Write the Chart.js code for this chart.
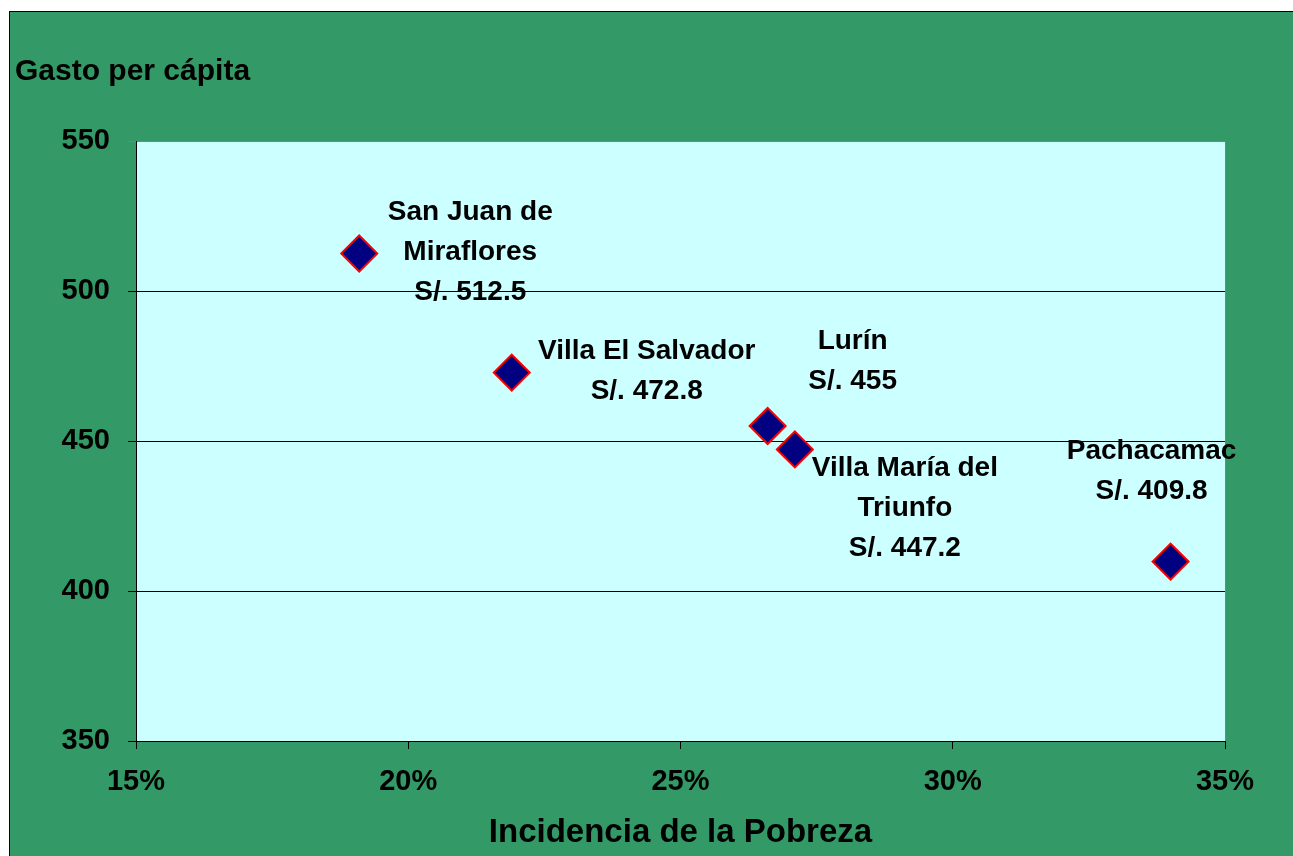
<!DOCTYPE html>
<html>
<head>
<meta charset="utf-8">
<script src="https://cdn.jsdelivr.net/npm/chart.js@4.4.1/dist/chart.umd.min.js"></script>
<style>
  body { margin: 0; background: #ffffff; overflow: hidden; }
  #marco {
    position: absolute; left: 9px; top: 11px;
    width: 1300px; height: 860px;
    background: #339966; border: 1px solid #000;
  }
  #graficoPobreza { display: block; }
</style>
</head>
<body>
<div id="marco"><canvas id="graficoPobreza" width="1290" height="845"></canvas></div>
<script>
// datos del gráfico
const distritos = [
    ['San Juan de', 'Miraflores', 'S/. 512.5'],
    ['Villa El Salvador', 'S/. 472.8'],
    ['Lurín', 'S/. 455'],
    ['Villa María del', 'Triunfo', 'S/. 447.2'],
    ['Pachacamac', 'S/. 409.8']
];
const pobreza = [19.1, 21.9, 26.6, 27.1, 34.0];
const gasto = [512.5, 472.8, 455, 447.2, 409.8];
const ticksX = [15, 20, 25, 30, 35];
const ticksY = [350, 400, 450, 500, 550];

// desplazamiento de cada etiqueta respecto a su punto (px)
const desplazamientos = [
    [111, -41], [135, -21], [85, -85], [110, 19], [-19, -110]
];

const fuente = 'Liberation Sans, Arial, sans-serif';

const etiquetasPlugin = {
    id: 'etiquetas',
    beforeDraw(chart) {
        const { ctx, chartArea: a } = chart;
        ctx.save();
        ctx.fillStyle = '#CCFFFF';
        ctx.fillRect(a.left, a.top, a.right - a.left, a.bottom - a.top);
        ctx.strokeStyle = '#808080';
        ctx.lineWidth = 1;
        ctx.strokeRect(a.left + 0.5, a.top + 0.5, a.right - a.left, a.bottom - a.top);
        ctx.restore();
    },
    afterDatasetsDraw(chart) {
        const ctx = chart.ctx;
        const meta = chart.getDatasetMeta(0);
        ctx.save();
        ctx.font = 'bold 28px ' + fuente;
        ctx.fillStyle = '#000';
        ctx.textAlign = 'center';
        ctx.textBaseline = 'middle';
        meta.data.forEach((p, i) => {
            const [dx, dy] = desplazamientos[i];
            distritos[i].forEach((linea, j) => {
                ctx.fillText(linea, p.x + dx, p.y + dy + j * 40);
            });
        });
        // título del eje vertical
        ctx.textAlign = 'left';
        ctx.font = 'bold 30px ' + fuente;
        ctx.fillText('Gasto per cápita', 5, 60);
        ctx.restore();
    }
};

const ctx = document.getElementById('graficoPobreza').getContext('2d');
new Chart(ctx, {
    type: 'scatter',
    data: {
        datasets: [{
            label: 'Distritos',
            data: pobreza.map((x, i) => ({ x: x, y: gasto[i] })),
            pointStyle: 'rectRot',
            pointRadius: 18,
            pointHoverRadius: 18,
            backgroundColor: '#000080',
            borderColor: '#FF0000',
            borderWidth: 2
        }]
    },
    options: {
        responsive: false,
        animation: false,
        layout: { padding: { left: 0, top: 129, right: 75, bottom: 0 } },
        plugins: {
            legend: { display: false },
            tooltip: { enabled: false }
        },
        scales: {
            x: {
                type: 'linear',
                min: 15,
                max: 35,
                afterBuildTicks: s => { s.ticks = ticksX.map(v => ({ value: v })); },
                afterFit: s => { s.height = 116; },
                border: { color: '#000', width: 1 },
                grid: { drawOnChartArea: false, color: '#000', tickLength: 8 },
                ticks: {
                    color: '#000',
                    padding: 16,
                    maxRotation: 0,
                    font: { family: fuente, size: 29, weight: 'bold' },
                    callback: v => v + '%'
                },
                title: {
                    display: true,
                    text: 'Incidencia de la Pobreza',
                    color: '#000',
                    padding: { top: 6 },
                    font: { family: fuente, size: 33, weight: 'bold' }
                }
            },
            y: {
                min: 350,
                max: 550,
                afterBuildTicks: s => { s.ticks = ticksY.map(v => ({ value: v })); },
                afterFit: s => { s.width = 126; },
                border: { color: '#000', width: 1 },
                grid: {
                    color: c => (c.tick && c.tick.value === 550) ? '#808080' : '#000',
                    tickLength: 8
                },
                ticks: {
                    color: '#000',
                    padding: 18,
                    font: { family: fuente, size: 29, weight: 'bold' }
                }
            }
        }
    },
    plugins: [etiquetasPlugin]
});
</script>
</body>
</html>
